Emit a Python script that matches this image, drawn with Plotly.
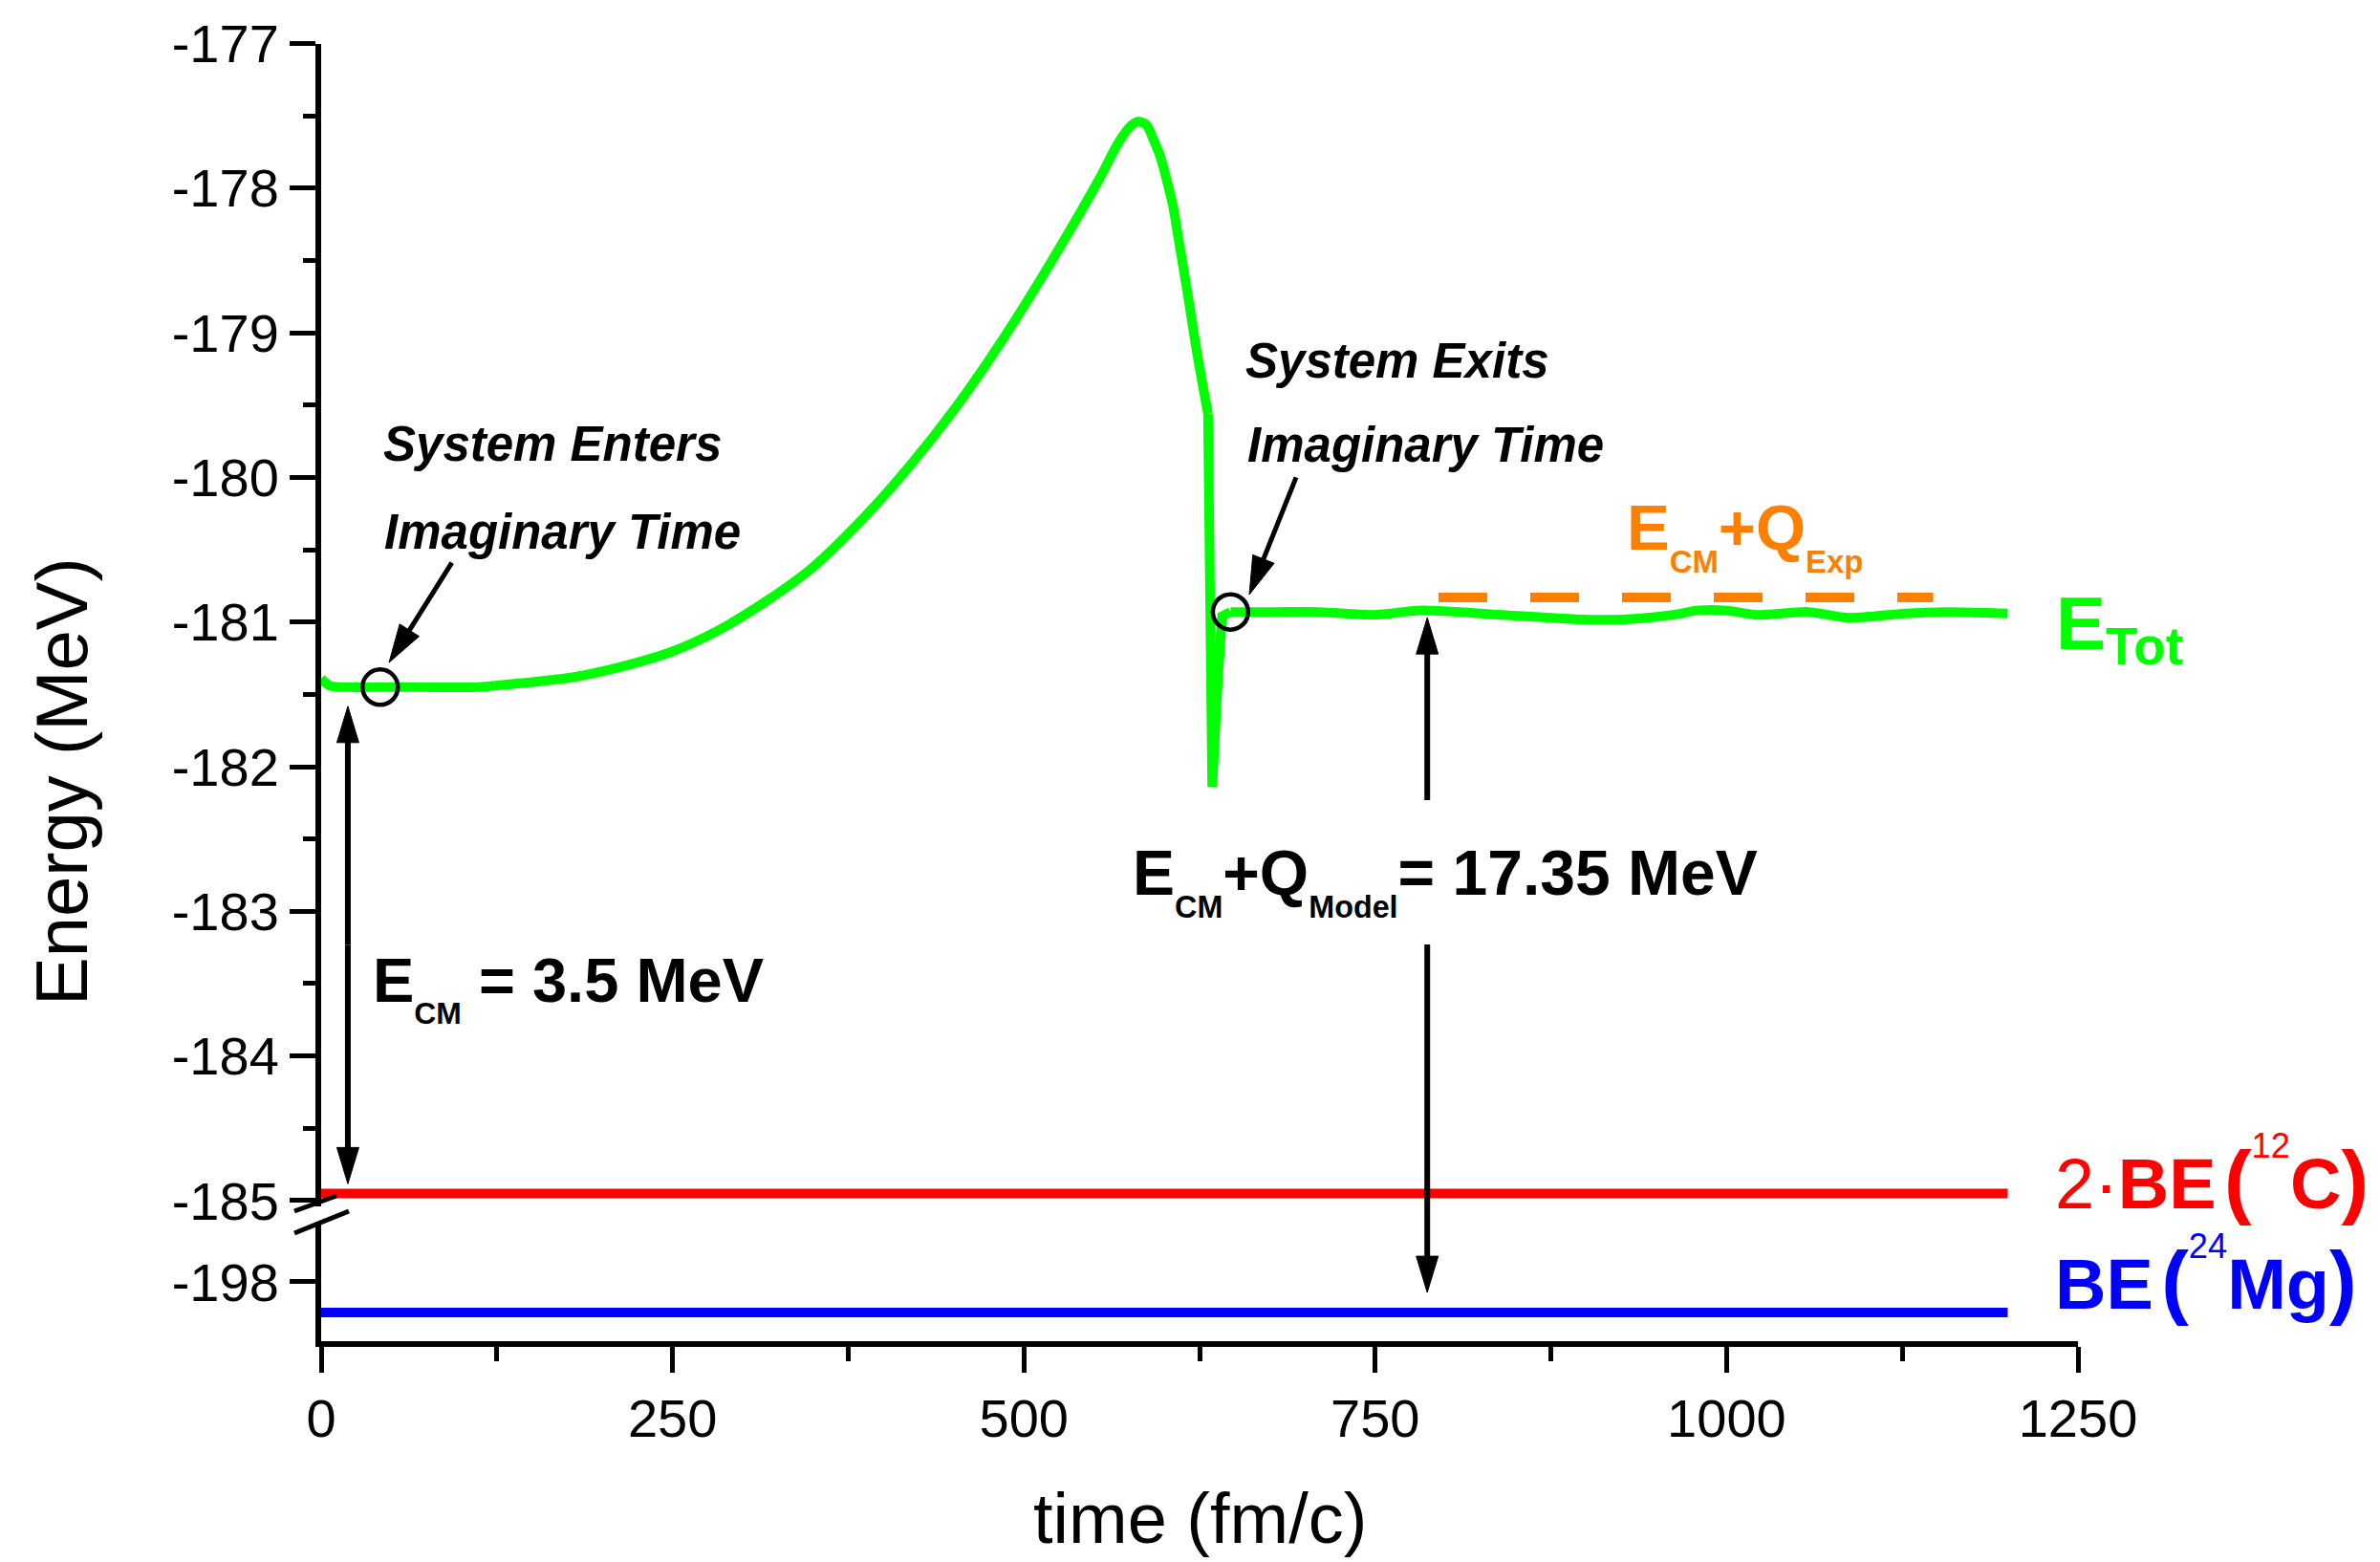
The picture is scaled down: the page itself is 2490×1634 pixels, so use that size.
import math
import plotly.graph_objects as go

W, H = 2490, 1634

# ---------------- data ----------------
# total energy vs time (fm/c, MeV)
time_tot = [0, 6, 20, 42, 70, 111, 145, 180, 213, 248, 282, 316, 350, 384, 418,
            452, 486, 520, 554, 567, 575, 581, 587, 592, 597, 601, 606, 610, 616,
            622, 627, 631, 632, 634, 638, 641, 647, 680, 710, 749, 783, 840, 892,
            930, 962, 979, 1000, 1021, 1058, 1087, 1127, 1156, 1200]
e_tot = [-181.39, -181.44, -181.45, -181.45, -181.45, -181.45, -181.42, -181.38,
         -181.31, -181.21, -181.06, -180.86, -180.62, -180.30, -179.93, -179.51,
         -179.03, -178.50, -177.93, -177.69, -177.58, -177.54, -177.56, -177.66,
         -177.78, -177.92, -178.12, -178.35, -178.70, -179.07, -179.35, -179.56,
         -180.50, -182.14, -181.40, -180.96, -180.93, -180.93, -180.93, -180.95,
         -180.92, -180.95, -180.98, -180.98, -180.95, -180.92, -180.92, -180.95,
         -180.93, -180.97, -180.94, -180.93, -180.94]

t_start, t_end = 0, 1200
two_be_c12 = -184.95          # 2*BE(12C)
be_mg24 = -198.28             # BE(24Mg)
q_exp_level = -180.83         # E_CM + Q_exp
q_exp_time = [795, 1147]

enter_t, enter_e = 42, -181.45
exit_t, exit_e = 647, -180.93
ecm_arrow_t = 19
qmodel_arrow_t = 787
qmodel_top_e = -180.93

x_ticks = [0, 250, 500, 750, 1000, 1250]
x_minor = [125, 375, 625, 875, 1125]
y_up_ticks = [-185, -184, -183, -182, -181, -180, -179, -178, -177]
y_up_minor = [-184.5, -183.5, -182.5, -181.5, -180.5, -179.5, -178.5, -177.5]
y_lo_ticks = [-198]

# ---------------- geometry ----------------
PLOT_L, PLOT_R = 336, 2174
UP_TOP, UP_BOT = 45.5, 1262
LO_TOP, LO_BOT = 1280, 1403
X_RANGE = [0, 1250]
Y_UP_RANGE = [-185.04, -177]
Y_LO_RANGE = [-198.54, -197.47]

FONT = "Liberation Sans, Arial, sans-serif"
GREEN, RED, BLUE, ORANGE = "#00FF00", "#FF0000", "#0000FF", "#FF8000"


def px_x(t):
    return PLOT_L + (t - X_RANGE[0]) / (X_RANGE[1] - X_RANGE[0]) * (PLOT_R - PLOT_L)


def px_y(v, lower=False):
    top, bot, rng = (LO_TOP, LO_BOT, Y_LO_RANGE) if lower else (UP_TOP, UP_BOT, Y_UP_RANGE)
    return bot - (v - rng[0]) / (rng[1] - rng[0]) * (bot - top)


def paper(px, py):
    return px / W, 1 - py / H


shapes = []
annotations = []


def seg(x0, y0, x1, y1, width=5):
    a, b = paper(x0, y0), paper(x1, y1)
    shapes.append(dict(type="line", xref="paper", yref="paper", x0=a[0], y0=a[1],
                       x1=b[0], y1=b[1], line=dict(color="black", width=width)))


def arrow(x0, y0, x1, y1, width=5, head_len=40, head_half=11):
    dx, dy = x1 - x0, y1 - y0
    L = math.hypot(dx, dy)
    ux, uy = dx / L, dy / L
    bx, by = x1 - ux * head_len, y1 - uy * head_len
    nx, ny = -uy, ux
    seg(x0, y0, bx + ux * 4, by + uy * 4, width)
    p1 = paper(x1, y1)
    p2 = paper(bx + nx * head_half, by + ny * head_half)
    p3 = paper(bx - nx * head_half, by - ny * head_half)
    path = f"M{p1[0]},{p1[1]} L{p2[0]},{p2[1]} L{p3[0]},{p3[1]} Z"
    shapes.append(dict(type="path", xref="paper", yref="paper", path=path,
                       fillcolor="black", line=dict(color="black", width=1)))


def ann(text, px, py, size, color="black", xanchor="center", yanchor="middle", angle=0):
    x, y = paper(px, py)
    annotations.append(dict(text=text, x=x, y=y, xref="paper", yref="paper",
                            showarrow=False, xanchor=xanchor, yanchor=yanchor,
                            textangle=angle,
                            font=dict(family=FONT, size=size, color=color)))


# ---------------- traces ----------------
fig = go.Figure()
fig.add_trace(go.Scatter(x=[t_start, t_end], y=[two_be_c12] * 2, mode="lines",
                         line=dict(color=RED, width=10), xaxis="x", yaxis="y"))
fig.add_trace(go.Scatter(x=[t_start, t_end], y=[be_mg24] * 2, mode="lines",
                         line=dict(color=BLUE, width=10), xaxis="x", yaxis="y2"))
fig.add_trace(go.Scatter(x=q_exp_time, y=[q_exp_level] * 2, mode="lines",
                         line=dict(color=ORANGE, width=10, dash="51px,45px"),
                         xaxis="x", yaxis="y"))

# E_tot: smooth before the drop and after the exit, straight through the sharp dip
i_kink = time_tot.index(631)
i_exit = time_tot.index(647)
pieces = [(0, i_kink + 1, "spline"), (i_kink, i_exit + 1, "linear"),
          (i_exit, len(time_tot), "spline")]
for a, b, shape in pieces:
    fig.add_trace(go.Scatter(x=time_tot[a:b], y=e_tot[a:b], mode="lines",
                             line=dict(color=GREEN, width=10, shape=shape, smoothing=0.8),
                             xaxis="x", yaxis="y"))

fig.add_trace(go.Scatter(x=[enter_t, exit_t], y=[enter_e, exit_e], mode="markers",
                         marker=dict(symbol="circle-open", size=37, color="black",
                                     line=dict(width=4.5, color="black")),
                         xaxis="x", yaxis="y"))

# ---------------- arrows ----------------
# pointers from the captions to the circled points
arrow(px_x(93), px_y(-180.59), px_x(48.3), px_y(-181.28), width=5, head_len=40, head_half=12)
arrow(px_x(693.7), px_y(-180.0), px_x(660.4), px_y(-180.81), width=5, head_len=40, head_half=12)

# E_CM double arrow
ax = px_x(ecm_arrow_t)
top_tip = px_y(enter_e) + 20
bot_tip = px_y(two_be_c12) - 10
mid = (top_tip + bot_tip) / 2
arrow(ax, mid, ax, top_tip, width=6, head_len=38, head_half=11.5)
arrow(ax, mid, ax, bot_tip, width=6, head_len=38, head_half=11.5)

# E_CM + Q_model double arrow (split around its caption)
bx = px_x(qmodel_arrow_t)
arrow(bx, 837, bx, px_y(qmodel_top_e) + 6, width=6, head_len=38, head_half=11.5)
arrow(bx, 988, bx, px_y(be_mg24, lower=True) - 21, width=6, head_len=38, head_half=11.5)

# axis break marks
seg(308, 1267, 352, 1251, width=5)
seg(308, 1290, 365, 1267, width=5)

# ---------------- text ----------------
ann("<b><i>System Enters</i></b>", 578, 464, 51)
ann("<b><i>Imaginary Time</i></b>", 588, 556, 51)
ann("<b><i>System Exits</i></b>", 1462, 377, 51)
ann("<b><i>Imaginary Time</i></b>", 1491, 465, 51)

ann("<b>E<sub><sub>CM</sub></sub> = 3.5 MeV</b>", 388, 1033, 65, xanchor="left")
ann("<b>E<sub><sub>CM</sub></sub>+Q<sub><sub>Model</sub></sub>= 17.35 MeV</b>", 1183, 922, 66,
    xanchor="left")
ann("<b>E<sub><sub>CM</sub></sub>+Q<sub><sub>Exp</sub></sub></b>", 1700, 560, 67,
    color=ORANGE, xanchor="left")
ann("<b>E<sub>Tot</sub></b>", 2149, 658, 78, color=GREEN, xanchor="left")
ann("2·<b>BE<span style='font-size:30px'> </span><span style='font-size:86px'>(</span></b>"
    "<sup><sup>12</sup></sup><b>C<span style='font-size:86px'>)</span></b>",
    2148, 1230, 74, color=RED, xanchor="left")
ann("<b>BE<span style='font-size:30px'> </span><span style='font-size:86px'>(</span></b>"
    "<sup><sup>24</sup></sup><b>Mg<span style='font-size:86px'>)</span></b>",
    2148, 1335, 74, color=BLUE, xanchor="left")

ann("Energy (MeV)", 64, 818, 76, angle=-90)
ann("time (fm/c)", 1255, 1588, 74)

# ---------------- axes ----------------
tickfont = dict(family=FONT, size=56, color="black")
common = dict(showline=True, linecolor="black", linewidth=6, ticks="outside",
              tickcolor="black", tickwidth=5, ticklen=27, showgrid=False,
              zeroline=False, tickfont=tickfont, fixedrange=True, automargin=False)

fig.update_layout(
    width=W, height=H,
    margin=dict(l=0, r=0, t=0, b=0, pad=0, autoexpand=False),
    paper_bgcolor="white", plot_bgcolor="white",
    showlegend=False,
    shapes=shapes,
    annotations=annotations,
    xaxis=dict(domain=[PLOT_L / W, PLOT_R / W], range=X_RANGE, anchor="y2",
               tickmode="array", tickvals=x_ticks, ticktext=[str(v) for v in x_ticks],
               minor=dict(tickmode="array", tickvals=x_minor, ticks="outside",
                          ticklen=15, tickwidth=5, tickcolor="black"),
               **common),
    yaxis=dict(domain=[1 - UP_BOT / H, 1 - UP_TOP / H], range=Y_UP_RANGE, anchor="x",
               tickmode="array", tickvals=y_up_ticks,
               ticktext=[f"-{abs(v)}" for v in y_up_ticks],
               minor=dict(tickmode="array", tickvals=y_up_minor, ticks="outside",
                          ticklen=13, tickwidth=5, tickcolor="black"),
               **common),
    yaxis2=dict(domain=[1 - LO_BOT / H, 1 - LO_TOP / H], range=Y_LO_RANGE, anchor="x",
                tickmode="array", tickvals=y_lo_ticks,
                ticktext=[f"-{abs(v)}" for v in y_lo_ticks],
                **common),
)

fig.write_html("out.html")
